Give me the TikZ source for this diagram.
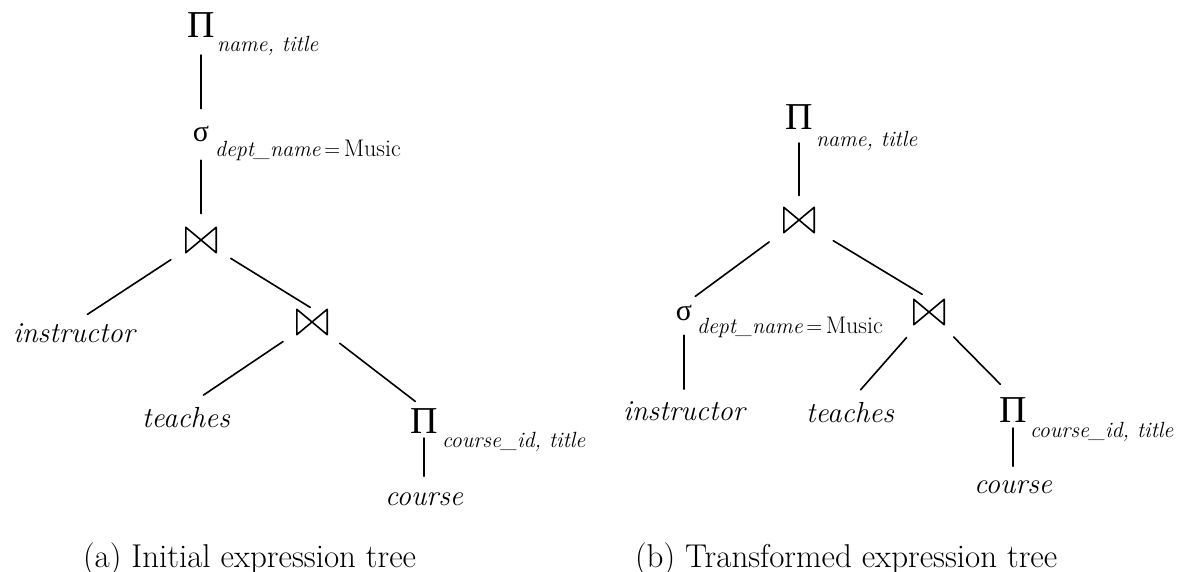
\documentclass[tikz,border=0pt]{standalone}
\usepackage{fontspec}
\newfontfamily\grk{Liberation Serif}
\usetikzlibrary{calc}
\begin{document}
\begin{tikzpicture}[x=1pt,y=-1pt,
  conn/.style={line width=1.6pt, line cap=round},
  it/.style={inner sep=0pt, outer sep=0pt, font=\fontsize{29}{34}\selectfont\itshape, anchor=base},
  sub/.style={inner sep=0pt, outer sep=0pt, font=\fontsize{22}{26}\selectfont\itshape, anchor=base west},
  prj/.style={inner sep=0pt, outer sep=0pt, font=\fontsize{38}{42}\selectfont\grk, anchor=south},
  sel/.style={inner sep=0pt, outer sep=0pt, font=\fontsize{30}{34}\selectfont\grk, anchor=base},
  captext/.style={inner sep=0pt, outer sep=0pt, font=\fontsize{33}{38}\selectfont, anchor=base west},
  bowtie/.style={minimum width=32pt, minimum height=27pt, inner sep=0pt, outer sep=0pt,
    path picture={\draw[line width=1.6pt, line join=round]
      ([shift={(0.8pt,-0.8pt)}]path picture bounding box.north west) --
      ([shift={(-0.8pt,0.8pt)}]path picture bounding box.south east) --
      ([shift={(-0.8pt,-0.8pt)}]path picture bounding box.north east) --
      ([shift={(0.8pt,0.8pt)}]path picture bounding box.south west) -- cycle;}}
]
\useasboundingbox (0,0) rectangle (1183,572);

% ---------- (a) initial tree ----------
\node[prj] (p1) at (201,38) {Π};
\node[sub] (s1) at (217,52) {name, title};
\node[sel] (g1) at (201,142) {σ};
\node[sub] (d1) at (215,157) {dept\_name{\upshape\,=\,\fontsize{24}{28}\selectfont Music}};
\node[bowtie] (j1) at (201,240) {};
\node[it] (ins1) at (74,342) {instructor};
\node[bowtie] (j2) at (312,322) {};
\node[it] (tea1) at (186,427) {teaches};
\node[prj] (p2) at (424,433) {Π};
\node[sub] (s2) at (442,447) {course\_id, title};
\node[it] (c1) at (424,505) {course};

\draw[conn, shorten <=17pt, shorten >=18pt] (p1.south) -- (g1.north);
\draw[conn, shorten <=18pt, shorten >=13pt] (g1.south) -- (j1.north);
\draw[conn, shorten <=36pt, shorten >=16pt] (j1.center) -- (ins1.north);
\draw[conn, shorten <=35pt, shorten >=2pt] (j1.center) -- (j2.north);
\draw[conn, shorten <=35pt, shorten >=21pt] (j2.center) -- (tea1.north);
\draw[conn, shorten <=35pt, shorten >=11pt] (j2.center) -- (p2.north);
\draw[conn, shorten <=5pt, shorten >=16pt] (p2.south) -- (c1.north);

% ---------- (b) transformed tree ----------
\node[prj] (p3) at (799,130) {Π};
\node[sub] (s3) at (816,147) {name, title};
\node[bowtie] (j3) at (799,220) {};
\node[sel] (g2) at (684,320) {σ};
\node[sub] (d2) at (697,333) {dept\_name{\upshape\,=\,\fontsize{24}{28}\selectfont Music}};
\node[it] (ins2) at (684,420) {instructor};
\node[bowtie] (j4) at (929,312) {};
\node[it] (tea2) at (850,422) {teaches};
\node[prj] (p4) at (1013,422) {Π};
\node[sub] (s4) at (1030,437) {course\_id, title};
\node[it] (c2) at (1013,493) {course};

\draw[conn, shorten <=13pt, shorten >=11pt] (p3.south) -- (j3.north);
\draw[conn, shorten <=37pt, shorten >=14pt] (j3.center) -- (g2.north);
\draw[conn, shorten <=15pt, shorten >=12pt] (g2.south) -- (ins2.north);
\draw[conn, shorten <=40pt, shorten >=8pt] (j3.center) -- (j4.north);
\draw[conn, shorten <=34pt, shorten >=16pt] (j4.center) -- (tea2.north);
\draw[conn, shorten <=35pt, shorten >=18pt] (j4.center) -- (p4.north);
\draw[conn, shorten <=6pt, shorten >=14pt] (p4.south) -- (c2.north);

% ---------- captions ----------
\node[captext] (ca) at (83,567) {(a) Initial expression tree};
\node[captext] (cb) at (635,567) {(b) Transformed expression tree};
\end{tikzpicture}
\end{document}
